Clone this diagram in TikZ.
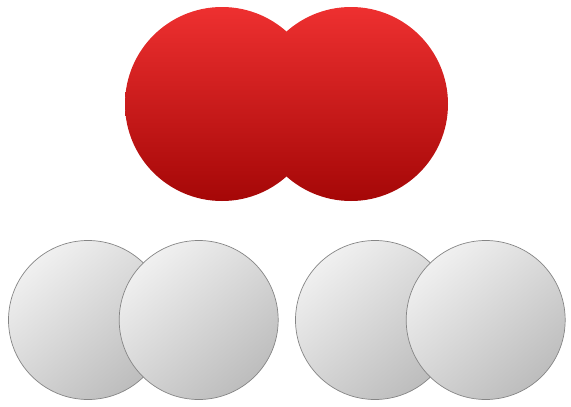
\documentclass[tikz,border=0pt]{standalone}
\usepackage{tikz}
\usetikzlibrary{positioning}
\usepackage{xcolor}
\definecolor{oxTop}{HTML}{EE3030}
\definecolor{oxBottom}{HTML}{A50707}
\definecolor{hLight}{HTML}{F0F0F0}
\definecolor{hDark}{HTML}{BDBDBD}
\definecolor{hEdge}{HTML}{858585}

\begin{document}
\begin{tikzpicture}[
  x=1pt, y=-1pt,
  oatom/.style={circle, inner sep=0pt, minimum size=194pt, top color=oxTop, bottom color=oxBottom},
  hatom/.style={circle, inner sep=0pt, minimum size=159pt, draw=hEdge, line width=0.7pt, top color=hLight, bottom color=hDark, shading angle=40}
]
\useasboundingbox (0,0) rectangle (571,407);

% Oxygen molecule
\node[oatom] (o1) at (222,104) {};
\node[oatom] (o2) at (351,104) {};

% Hydrogen molecules
\foreach \name/\x in {ha/88, hb/375} {
  \node[hatom] (\name1) at (\x,320) {};
  \node[hatom, right=-49pt of \name1] (\name2) {};
}
\end{tikzpicture}
\end{document}
